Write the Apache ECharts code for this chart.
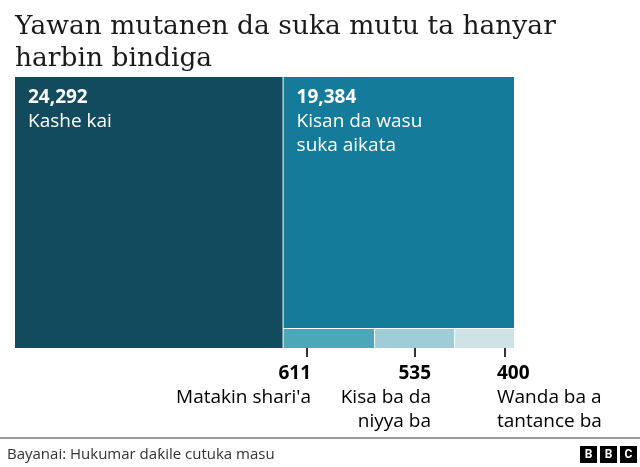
<!DOCTYPE html>
<html>
<head>
<meta charset="utf-8">
<script src="https://cdn.jsdelivr.net/npm/echarts@6/dist/echarts.min.js"></script>
<style>
  html, body { margin: 0; padding: 0; background: #fff; }
  #chart { width: 640px; height: 467px; }
</style>
</head>
<body>
<div id="chart"></div>
<script>
// bayanai
var names = ['Kashe kai', 'Kisan da wasu\nsuka aikata', "Matakin shari'a", 'Kisa ba da\nniyya ba', 'Wanda ba a\ntantance ba'];
var values = [24292, 19384, 611, 535, 400];
var colors = ['#134b5e', '#157b9b', '#4ca8b8', '#a0ccd7', '#cfe2e6'];
// wadanda ke da alama a waje (kananan akwatuna)
var outsideIdx = [2, 3, 4];
// matsayin alamomin waje: [x na rubutu, daidaitawa, x na layi]
var outsidePos = [[311, 'right', 307], [431, 'right', 415], [497, 'left', 505]];

var sansFont = '"Open Sans", "Noto Sans", sans-serif';

function fmt(v) {
  return v.toLocaleString('en-US');
}

var chart = echarts.init(document.getElementById('chart'), null, { renderer: 'canvas' });

var graphics = [];
// layukan alama da rubutu a karkashin kananan akwatuna
outsideIdx.forEach(function (idx, k) {
  var p = outsidePos[k];
  graphics.push({
    type: 'line',
    shape: { x1: p[2], y1: 338, x2: p[2], y2: 357 },
    style: { stroke: '#333', lineWidth: 2 }
  });
  graphics.push({
    type: 'text',
    x: p[0],
    y: 362,
    style: {
      text: '{v|' + fmt(values[idx]) + '}\n' + names[idx].split('\n').map(function (s) { return '{n|' + s + '}'; }).join('\n'),
      align: p[1],
      verticalAlign: 'top',
      rich: {
        v: { fontFamily: sansFont, fontSize: 19, fontWeight: 'bold', color: '#222', lineHeight: 24, align: p[1] },
        n: { fontFamily: sansFont, fontSize: 19, color: '#333', lineHeight: 24, align: p[1] }
      }
    }
  });
});
// layin kasa da tushe
graphics.push({
  type: 'line',
  shape: { x1: 0, y1: 438, x2: 640, y2: 438 },
  style: { stroke: '#999', lineWidth: 2 }
});
graphics.push({
  type: 'text',
  x: 7,
  y: 455,
  style: {
    text: 'Bayanai: Hukumar daƙile cutuka masu',
    fontFamily: sansFont,
    fontSize: 15,
    fill: '#333',
    verticalAlign: 'middle'
  }
});
// tambarin BBC
['B', 'B', 'C'].forEach(function (ch, i) {
  var x0 = 580 + i * 20;
  graphics.push({
    type: 'rect',
    shape: { x: x0, y: 446, width: 17, height: 17 },
    style: { fill: '#000' }
  });
  graphics.push({
    type: 'text',
    x: x0 + 8.5,
    y: 455,
    style: {
      text: ch,
      fontFamily: 'Roboto, sans-serif',
      fontWeight: 'bold',
      fontSize: 12,
      fill: '#fff',
      align: 'center',
      verticalAlign: 'middle'
    }
  });
});

var option = {
  animation: false,
  title: {
    text: 'Yawan mutanen da suka mutu ta hanyar\nharbin bindiga',
    left: 10,
    top: 6,
    textStyle: {
      fontFamily: '"DejaVu Serif", serif',
      fontSize: 26.5,
      fontWeight: 'normal',
      lineHeight: 32,
      color: '#1a1a1a'
    }
  },
  series: [
    {
      type: 'treemap',
      left: 15,
      top: 77,
      width: 499,
      height: 271,
      roam: false,
      nodeClick: false,
      silent: true,
      breadcrumb: { show: false },
      itemStyle: { borderWidth: 0, gapWidth: 1 },
      label: {
        show: true,
        position: 'insideTopLeft',
        padding: [9, 13, 0, 13],
        formatter: function (p) {
          return '{v|' + fmt(p.value) + '}\n' + p.name.split('\n').map(function (s) { return '{n|' + s + '}'; }).join('\n');
        },
        rich: {
          v: { fontFamily: sansFont, fontSize: 19, fontWeight: 'bold', color: '#fff', lineHeight: 24 },
          n: { fontFamily: sansFont, fontSize: 19, color: '#fff', lineHeight: 24 }
        }
      },
      data: values.map(function (v, i) {
        return {
          name: names[i],
          value: v,
          itemStyle: { color: colors[i] },
          label: { show: outsideIdx.indexOf(i) < 0 }
        };
      })
    }
  ],
  graphic: graphics
};

chart.setOption(option);
window.addEventListener('resize', function () {
  chart.resize();
});
</script>
</body>
</html>
